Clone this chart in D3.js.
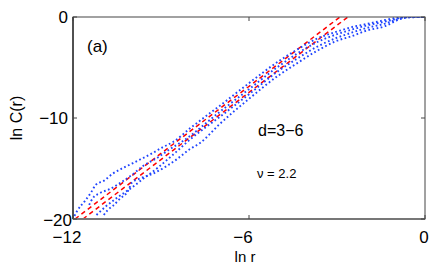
<!DOCTYPE html>
<html>
<head>
<meta charset="utf-8">
<script src="https://cdn.jsdelivr.net/npm/d3@7"></script>
<style>
  body { margin: 0; background: #fff; }
  text { font-family: "Liberation Sans", Arial, Helvetica, sans-serif; fill: #000; }
</style>
</head>
<body>
<div id="chart"></div>
<script>
// blue dotted curves (x = ln r, y = ln C(r))
const curveAx = [-11.95, -11.86, -11.59, -11.39, -11.22, -10.94, -10.64, -10.30, -9.95, -9.61, -9.34, -8.93, -8.59, -8.0, -7.0, -6.0, -5.0, -4.4, -3.65, -3.0, -2.5, -2.0, -1.36, -1.0, -0.8, -0.5, 0];
const curveAy = [-19.7, -19.2, -18.2, -17.4, -16.6, -16.2, -15.5, -14.95, -14.46, -13.96, -13.56, -12.87, -12.38, -11.0, -8.8, -6.55, -4.4, -3.3, -2.1, -1.45, -1.0, -0.7, -0.3, -0.1, -0.02, 0, 0];

const curveBx = [-11.45, -11.32, -11.08, -10.74, -10.40, -9.95, -9.61, -9.14, -8.69, -8.25, -7.0, -6.0, -5.0, -4.4, -3.65, -3.0, -2.5, -2.0, -1.36, -1.0, -0.8, -0.5, 0];
const curveBy = [-18.6, -17.92, -17.43, -17.03, -16.44, -15.54, -14.75, -13.96, -13.07, -12.28, -9.4, -7.15, -4.9, -3.7, -2.45, -1.7, -1.25, -0.85, -0.45, -0.2, -0.06, -0.01, 0];

const curveCx = [-11.2, -10.9, -10.5, -10.0, -9.6, -9.1, -8.5, -8.0, -7.0, -6.0, -5.0, -4.4, -3.65, -3.0, -2.5, -2.0, -1.36, -1.0, -0.8, -0.5, 0];
const curveCy = [-19.6, -18.8, -17.9, -16.9, -16.0, -14.9, -13.4, -12.1, -9.9, -7.65, -5.35, -4.2, -2.9, -2.05, -1.55, -1.1, -0.65, -0.3, -0.12, -0.02, 0];

const curveDx = [-10.95, -10.81, -10.64, -10.40, -10.12, -9.99, -9.72, -9.27, -8.80, -8.45, -8.01, -7.67, -7.0, -6.0, -5.0, -4.4, -3.65, -3.0, -2.5, -2.0, -1.36, -1.0, -0.8, -0.5, 0];
const curveDy = [-19.6, -19.1, -18.7, -18.0, -17.2, -16.4, -16.0, -15.5, -14.75, -14.06, -13.07, -12.48, -10.6, -8.1, -5.8, -4.65, -3.3, -2.35, -1.9, -1.35, -0.9, -0.4, -0.15, -0.03, 0];

// red dashed fits (slope nu = 2.2), end points
const fit1x = [-11.93, -2.9];
const fit1y = [-20, 0];
const fit2x = [-11.66, -2.63];
const fit2y = [-20, 0];

// ticks
const xTicks = [-12, -6, 0];
const yTicks = [-20, -10, 0];

const svgWidth = 436;
const svgHeight = 273;
const margin = { top: 17, right: 11, bottom: 54, left: 73 };
const width = svgWidth - margin.left - margin.right;
const height = svgHeight - margin.top - margin.bottom;

const svg = d3.select("#chart")
    .append("svg")
    .attr("width", svgWidth)
    .attr("height", svgHeight);

const chart = svg.append("g")
    .attr("transform", `translate(${margin.left}, ${margin.top})`);

const x = d3.scaleLinear().domain([-12, 0]).range([0, width]);
const y = d3.scaleLinear().domain([-20, 0]).range([height, 0]);

svg.append("defs").append("clipPath")
    .attr("id", "plotclip")
    .append("rect")
    .attr("width", width)
    .attr("height", height + 1);

const zip = (xs, ys) => xs.map((v, i) => [v, ys[i]]);

const line = d3.line()
    .x(d => x(d[0]))
    .y(d => y(d[1]))
    .curve(d3.curveMonotoneX);

const plot = chart.append("g").attr("clip-path", "url(#plotclip)");

// red fits
[zip(fit1x, fit1y), zip(fit2x, fit2y)].forEach(pts => {
    plot.append("path")
        .attr("d", d3.line().x(d => x(d[0])).y(d => y(d[1]))(pts))
        .attr("fill", "none")
        .attr("stroke", "#ff0000")
        .attr("stroke-width", 1.5)
        .attr("stroke-dasharray", "4.5,3.5");
});

// blue dotted curves
[zip(curveAx, curveAy), zip(curveBx, curveBy), zip(curveCx, curveCy), zip(curveDx, curveDy)].forEach(pts => {
    plot.append("path")
        .attr("d", line(pts))
        .attr("fill", "none")
        .attr("stroke", "#1f44ff")
        .attr("stroke-width", 1.9)
        .attr("stroke-dasharray", "1.7,2.5");
});

// box
chart.append("rect")
    .attr("width", width)
    .attr("height", height)
    .attr("fill", "none")
    .attr("stroke", "#444")
    .attr("stroke-width", 1);

chart.append("line")
    .attr("x1", 0).attr("x2", 0)
    .attr("y1", 0).attr("y2", height)
    .attr("stroke", "#000");

chart.append("line")
    .attr("x1", 0).attr("x2", width)
    .attr("y1", height).attr("y2", height)
    .attr("stroke", "#777")
    .attr("stroke-width", 1.8);

// inward ticks, mirrored
const tickLen = 4;
xTicks.forEach(t => {
    chart.append("line").attr("x1", x(t)).attr("x2", x(t)).attr("y1", height).attr("y2", height - tickLen).attr("stroke", "#444");
    chart.append("line").attr("x1", x(t)).attr("x2", x(t)).attr("y1", 0).attr("y2", tickLen).attr("stroke", "#444");
});
yTicks.forEach(t => {
    chart.append("line").attr("x1", 0).attr("x2", tickLen).attr("y1", y(t)).attr("y2", y(t)).attr("stroke", "#444");
    chart.append("line").attr("x1", width).attr("x2", width - tickLen).attr("y1", y(t)).attr("y2", y(t)).attr("stroke", "#444");
});

const fmt = v => v < 0 ? "\u2212" + Math.abs(v) : String(v);

// tick labels
chart.selectAll(".xlab")
    .data(xTicks)
    .enter()
    .append("text")
    .attr("x", d => x(d) + (d < 0 ? -6 : -1))
    .attr("y", height + 24)
    .attr("text-anchor", "middle")
    .attr("font-size", 17)
    .text(fmt);

chart.selectAll(".ylab")
    .data(yTicks)
    .enter()
    .append("text")
    .attr("x", d => d === -20 ? -1 : -5)
    .attr("y", d => y(d) + 6 + (d === -20 ? 1 : 0))
    .attr("text-anchor", "end")
    .attr("font-size", 17)
    .text(fmt);

// axis titles
chart.append("text")
    .attr("x", x(-6) - 4)
    .attr("y", height + 43)
    .attr("text-anchor", "middle")
    .attr("font-size", 15)
    .text("ln r");

svg.append("text")
    .attr("transform", `translate(22, ${margin.top + height / 2}) rotate(-90)`)
    .attr("text-anchor", "middle")
    .attr("font-size", 16)
    .text("ln C(r)");

// annotations
chart.append("text")
    .attr("x", 14).attr("y", 35)
    .attr("font-size", 17)
    .text("(a)");

chart.append("text")
    .attr("x", 185).attr("y", 119)
    .attr("font-size", 16)
    .text("d=3\u22126");

chart.append("text")
    .attr("x", 184).attr("y", 161)
    .attr("font-size", 13)
    .text("\u03bd = 2.2");
</script>
</body>
</html>
